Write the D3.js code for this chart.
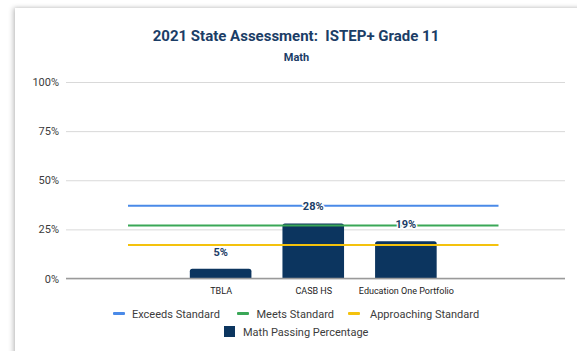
<!DOCTYPE html>
<html>
<head>
<meta charset="utf-8">
<script src="https://cdn.jsdelivr.net/npm/d3@7/dist/d3.min.js"></script>
<style>
  html, body { margin: 0; padding: 0; background: #ffffff; }
  body { width: 577px; height: 351px; overflow: hidden; position: relative; }
  .card {
    position: absolute; left: 15px; top: 8px; width: 600px; height: 400px;
    background: #fff;
    box-shadow: -2px 0 5px rgba(0,0,0,0.22), 0 -1px 3px rgba(0,0,0,0.06);
  }
  svg { position: absolute; left: 0; top: 0; font-family: Roboto, "Noto Sans", sans-serif; }
</style>
</head>
<body>
<div class="card"></div>
<svg id="chart" width="577" height="351"></svg>
<script>
// Categories along the x axis (blank slots at both ends carry only the standard lines)
const categories = ["", "TBLA", "CASB HS", "Education One Portfolio", ""];
// Math passing percentage per school
const passing = [null, 5, 28, 19, null];
// Standard thresholds drawn as flat lines across all categories
const exceeds = [37, 37, 37, 37, 37];
const meets = [27, 27, 27, 27, 27];
const approaching = [17, 17, 17, 17, 17];
const yTicks = [0, 25, 50, 75, 100];

const svg = d3.select("#chart");
const navy = "#0c355f";

const plotLeft = 66, plotRight = 565, plotTop = 82, plotBottom = 278.5;

const x = d3.scalePoint().domain(d3.range(categories.length)).range([128, 498.5]);
const step = x.step();
const barW = step * 0.665;
const y = d3.scaleLinear().domain([0, 100]).range([plotBottom, plotTop]);

// Titles
svg.append("text").attr("x", 296).attr("y", 40.7).attr("text-anchor", "middle")
  .attr("font-size", 15).attr("font-weight", 700).attr("fill", "#1b3d66")
  .style("white-space", "pre")
  .text("2021 State Assessment:  ISTEP+ Grade 11");
svg.append("text").attr("x", 296.5).attr("y", 60.7).attr("text-anchor", "middle")
  .attr("font-size", 11).attr("font-weight", 700).attr("fill", "#1b3d66")
  .text("Math");

// Gridlines and y labels
const yAxis = d3.axisLeft(y).tickValues(yTicks).tickFormat(d => d + "%")
  .tickSize(-(plotRight - plotLeft)).tickPadding(7);
const gy = svg.append("g").attr("transform", `translate(${plotLeft},0)`).call(yAxis);
gy.select(".domain").remove();
gy.selectAll(".tick line").attr("stroke", "#d9d9d9").attr("stroke-width", 1);
gy.selectAll(".tick text").attr("font-size", 11).attr("fill", "#3c3c3c")
  .attr("font-family", "Roboto, sans-serif");

// Bars with slightly rounded top corners
const barData = passing.map((v, i) => ({ i, v })).filter(d => d.v != null);
const r = 2.5;
svg.append("g").selectAll("path").data(barData).join("path")
  .attr("fill", navy)
  .attr("d", d => {
    const x0 = x(d.i) - barW / 2, x1 = x(d.i) + barW / 2;
    const yt = y(d.v), yb = y(0);
    return `M${x0},${yb}V${yt + r}Q${x0},${yt} ${x0 + r},${yt}H${x1 - r}Q${x1},${yt} ${x1},${yt + r}V${yb}Z`;
  });

// Baseline
svg.append("line").attr("x1", plotLeft).attr("x2", plotRight)
  .attr("y1", y(0)).attr("y2", y(0)).attr("stroke", "#9a9a9a").attr("stroke-width", 1.5);

// Standard lines
const lineSeries = [
  { name: "Exceeds Standard", values: exceeds, color: "#4a8ae8" },
  { name: "Meets Standard", values: meets, color: "#3aa757" },
  { name: "Approaching Standard", values: approaching, color: "#f4c20d" }
];
const line = d3.line().x((d, i) => x(i)).y(d => y(d));
svg.append("g").selectAll("path").data(lineSeries).join("path")
  .attr("fill", "none").attr("stroke", d => d.color).attr("stroke-width", 2)
  .attr("d", d => line(d.values));

// Value labels above bars
svg.append("g").selectAll("text").data(barData).join("text")
  .attr("x", d => x(d.i)).attr("y", d => y(d.v) - 13)
  .attr("text-anchor", "middle").attr("font-size", 11).attr("font-weight", 700)
  .attr("fill", "#1b3d66").attr("stroke", "#fff").attr("stroke-width", 3)
  .attr("paint-order", "stroke").attr("stroke-linejoin", "round")
  .text(d => d.v + "%");

// Category labels
const xAxis = d3.axisBottom(x).tickFormat(i => categories[i]).tickSize(0).tickPadding(9);
const gx = svg.append("g").attr("transform", `translate(0,${plotBottom})`).call(xAxis);
gx.select(".domain").remove();
gx.selectAll(".tick text").attr("font-size", 9).attr("fill", "#222")
  .attr("font-family", "Roboto, sans-serif");

// Legend
const legendFont = 11;
const leg = svg.append("g").attr("font-size", legendFont).attr("fill", "#3c3c3c");
const row1 = [
  { s: lineSeries[0], sx: 113, tx: 132 },
  { s: lineSeries[1], sx: 237, tx: 256.5 },
  { s: lineSeries[2], sx: 348, tx: 370 }
];
row1.forEach(d => {
  leg.append("rect").attr("x", d.sx).attr("y", 312).attr("width", 12).attr("height", 3)
    .attr("rx", 1).attr("fill", d.s.color);
  leg.append("text").attr("x", d.tx).attr("y", 317.5).text(d.s.name);
});
leg.append("rect").attr("x", 224).attr("y", 326).attr("width", 11).attr("height", 11)
  .attr("fill", navy);
leg.append("text").attr("x", 243).attr("y", 335.5).text("Math Passing Percentage");
</script>
</body>
</html>
